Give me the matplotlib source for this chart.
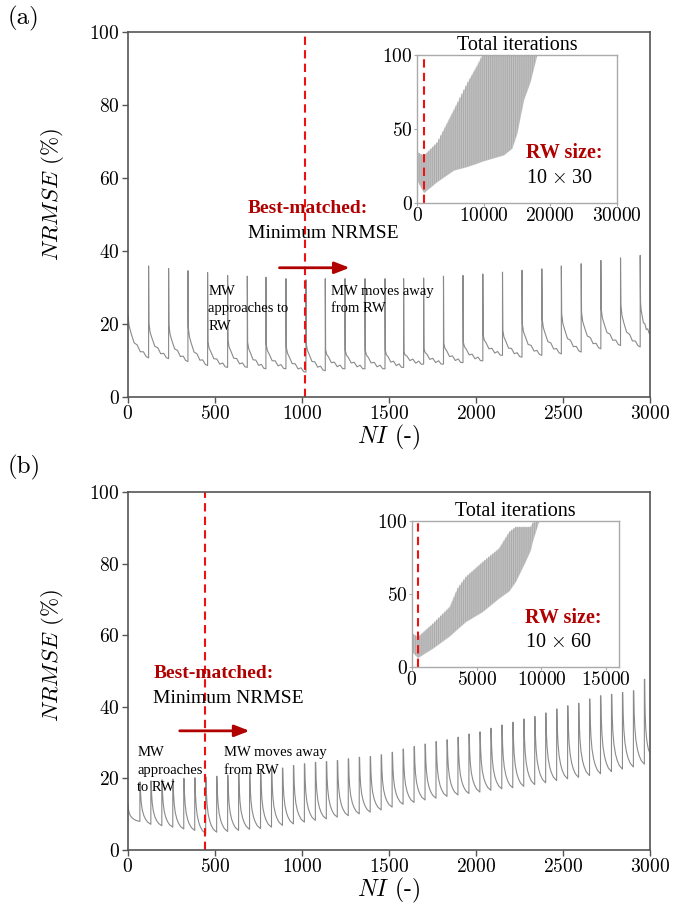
import matplotlib
matplotlib.use('Agg')
import matplotlib.pyplot as plt

plt.rcParams['mathtext.fontset'] = 'cm'
plt.rcParams['font.family'] = 'Liberation Serif'
plt.rcParams['axes.formatter.use_mathtext'] = True
plt.rcParams['hatch.linewidth'] = 0.6

# ---- panel (a): RW size 10 x 30 ----
a_start = 22.3
a_end = 17.2
a_spike_x = [119, 234, 345, 458, 573, 686, 793, 908, 1023, 1134, 1247, 1362, 1477,
             1584, 1699, 1813, 1925, 2039, 2152, 2264, 2378, 2490, 2604, 2717, 2830, 2943]
a_peak = [35.8, 35.1, 34.5, 34.0, 33.2, 33.0, 32.7, 32.3, 32.0, 32.3, 32.3, 32.3, 32.3,
          32.3, 32.5, 33.0, 33.2, 33.6, 34.1, 34.6, 35.0, 35.8, 36.4, 37.3, 38.0, 38.7]
a_restart = [20.0, 19.5, 19.0, 15.0, 15.4, 14.9, 14.2, 13.6, 14.5, 12.8, 12.6, 12.6, 12.6,
             12.2, 13.1, 14.5, 14.9, 16.8, 18.1, 19.9, 21.3, 22.7, 23.1, 24.1, 25.0, 25.9]
a_trough = [10.6, 10.4, 9.6, 8.5, 8.0, 8.0, 7.6, 7.6, 6.7, 7.1, 7.6, 7.6, 7.6,
            8.0, 8.9, 8.9, 9.3, 9.8, 11.3, 10.8, 11.3, 11.7, 12.2, 13.1, 14.0, 13.6]
a_best = 1017

# decay profile inside one cycle (fraction of cycle, fraction of drop)
a_shape_t = [0, 0.06, 0.15, 0.3, 0.45, 0.6, 0.75, 0.88, 1.0]
a_shape_f = [1, 0.75, 0.55, 0.38, 0.26, 0.17, 0.1, 0.05, 0]
a_ripple = [0, 0, 0.4, -0.3, 0.5, -0.3, 0.5, -0.2, 0]

# inset (a): envelope of all 30000 iterations
ia_x = [0, 1000, 3000, 5500, 7500, 9000, 9750, 10500, 13000, 14250, 15000, 16000, 17000, 18000]
ia_hi = [34.5, 32, 41, 63, 81, 93, 100, 100, 100, 100, 100, 100, 100, 100]
ia_lo = [15.3, 6.8, 14.2, 22, 24.4, 26.7, 28, 29, 32.3, 36.8, 47, 69.5, 82, 100]
ia_best = 1000

# ---- panel (b): RW size 10 x 60 ----
b_start = 13.0
b_end = 27.0
b_spike_x = [69, 132, 195, 258, 321, 384, 447, 510, 573, 636, 699, 762, 825, 888, 951, 1014,
             1077, 1140, 1203, 1266, 1329, 1392, 1455, 1518, 1581, 1644, 1707, 1770, 1833,
             1896, 1959, 2022, 2085, 2148, 2211, 2274, 2337, 2400, 2463, 2526, 2589, 2652,
             2715, 2778, 2841, 2904, 2967]
b_peak = [19.0, 19.3, 19.6, 19.8, 20.0, 20.2, 20.4, 20.6, 20.9, 21.3, 21.7, 22.2, 22.6, 22.9,
          23.6, 24.1, 24.5, 24.7, 25.0, 25.5, 25.9, 26.1, 26.6, 27.3, 28.2, 28.9, 29.6, 30.3,
          30.8, 31.5, 32.4, 33.0, 34.0, 34.9, 35.7, 36.6, 37.3, 38.3, 39.4, 40.3, 41.0, 42.2,
          43.1, 43.5, 44.0, 44.5, 47.7]
b_trough = [8.0, 7.2, 6.8, 6.4, 5.9, 5.5, 4.6, 5.0, 5.2, 5.5, 5.8, 6.0, 6.4, 6.9, 7.3, 7.8,
            8.3, 8.7, 9.2, 9.6, 10.1, 10.6, 11.2, 12.0, 12.8, 13.3, 14.0, 14.5, 15.0, 15.4,
            15.8, 16.2, 16.7, 17.1, 17.4, 17.8, 18.3, 18.8, 19.4, 19.9, 20.3, 20.8, 21.3,
            21.9, 22.6, 23.2, 24.0]
b_best = 442

b_shape_t = [0, 0.04, 0.1, 0.2, 0.35, 0.5, 0.7, 1.0]
b_shape_f = [1, 0.7, 0.5, 0.33, 0.2, 0.12, 0.05, 0]
b_ripple = [0, 0, 0, 0, 0, 0, 0, 0]

ib_x = [0, 450, 1600, 2900, 3500, 4150, 5450, 6700, 7500, 8000, 8750, 9150, 9300, 9800]
ib_hi = [23, 20.6, 29.7, 41.2, 53.8, 61.8, 72.1, 81.2, 92.7, 96.1, 96.1, 96.1, 99, 100]
ib_lo = [10.3, 6.2, 12.6, 21, 25.8, 30.9, 37.8, 46.9, 52, 58.4, 72.1, 80, 85.8, 100]
ib_best = 450

DARKRED = '#b10000'
CM = 'cmr10'


def sawtooth(start, spikes, peaks, restarts, troughs, end_x, end_val, st, sf, rip):
    xs, ys = [], []
    x0, v0 = 0, start
    for sx, pk, rs, tr in zip(spikes, peaks, restarts, troughs):
        for t, f, r in zip(st, sf, rip):
            xs.append(x0 + t * (sx - x0))
            ys.append(tr + (v0 - tr) * f + r)
        xs.append(sx)
        ys.append(pk)
        x0, v0 = sx + 2, rs
    for t, f, r in zip(st, sf, rip):
        xs.append(x0 + t * (end_x - x0))
        ys.append(end_val + (v0 - end_val) * f + r)
    return xs, ys


def main_axes(ax, xs, ys, best):
    ax.plot(xs, ys, color='#8a8a8a', lw=0.8)
    ax.axvline(best, color='#ee1111', lw=1.5, ls=(0, (4, 2.5)))
    ax.set_xlim(0, 3000)
    ax.set_ylim(0, 100)
    ax.set_xticks([0, 500, 1000, 1500, 2000, 2500, 3000])
    ax.set_yticks([0, 20, 40, 60, 80, 100])
    for s in ax.spines.values():
        s.set_color('#555555')
        s.set_linewidth(1.2)
    ax.tick_params(direction='out', length=4, width=1, color='#555555',
                   labelsize=14, labelfontfamily=CM, pad=2)
    ax.set_ylabel(r'$\mathit{NRMSE}$ (%)', fontsize=16.5, family=CM)
    ax.set_xlabel(r'$\mathit{NI}$ (-)', fontsize=17, family=CM, labelpad=0)


def inset(rect, xs, lo, hi, best, xlim, xticks, size_txt):
    ins = fig.add_axes(rect)
    ins.fill_between(xs, lo, hi, color='#c2c2c2', lw=0)
    ins.fill_between(xs, lo, hi, facecolor='none', edgecolor='#a8a8a8', hatch='||||||||', lw=0)
    ins.axvline(best, color='#ee1111', lw=1.5, ls=(0, (4, 2.5)))
    ins.set_xlim(*xlim)
    ins.set_ylim(0, 100)
    ins.set_xticks(xticks)
    ins.set_yticks([0, 50, 100])
    for s in ins.spines.values():
        s.set_color('#aaaaaa')
        s.set_linewidth(1)
    ins.tick_params(length=2, width=0.8, color='#aaaaaa', labelsize=14,
                    labelfontfamily=CM, pad=1)
    ins.set_title('Total iterations', fontsize=14.5, pad=3)
    ins.text(0.545, 0.335, 'RW size:', transform=ins.transAxes, fontsize=14.5,
             fontweight='bold', color=DARKRED, va='center')
    ins.text(0.545, 0.165, size_txt, transform=ins.transAxes, fontsize=14.5, va='center')
    return ins


fig = plt.figure(figsize=(6.73, 9.18), dpi=100)

ax_a = fig.add_axes([0.190, 0.568, 0.776, 0.3975])
xa, ya = sawtooth(a_start, a_spike_x, a_peak, a_restart, a_trough, 3000, a_end,
                  a_shape_t, a_shape_f, a_ripple)
main_axes(ax_a, xa, ya, a_best)
ax_a.yaxis.set_label_coords(-0.118, 0.555)
ax_a.text(690, 51.5, 'Best-matched:', fontsize=14, fontweight='bold', color=DARKRED, va='center')
ax_a.text(690, 44.8, 'Minimum NRMSE', fontsize=14, va='center')
ax_a.annotate('', xy=(1290, 35.3), xytext=(855, 35.3),
              arrowprops=dict(arrowstyle='-|>,head_length=0.9,head_width=0.35',
                              color=DARKRED, lw=2))
ax_a.text(462, 30.6, 'MW\napproaches to\nRW', fontsize=10.5, va='top', linespacing=1.45)
ax_a.text(1165, 30.6, 'MW moves away\nfrom RW', fontsize=10.5, va='top', linespacing=1.45)
inset([0.6196, 0.7792, 0.297, 0.161], ia_x, ia_lo, ia_hi, ia_best, (0, 30000),
      [0, 10000, 20000, 30000], r'10 $\times$ 30')

ax_b = fig.add_axes([0.190, 0.074, 0.776, 0.390])
xb, yb = sawtooth(b_start, b_spike_x, b_peak, b_peak, b_trough, 3000, b_end,
                  b_shape_t, b_shape_f, b_ripple)
main_axes(ax_b, xb, yb, b_best)
ax_b.yaxis.set_label_coords(-0.118, 0.545)
ax_b.text(146, 49.3, 'Best-matched:', fontsize=14, fontweight='bold', color=DARKRED, va='center')
ax_b.text(146, 42.4, 'Minimum NRMSE', fontsize=14, va='center')
ax_b.annotate('', xy=(715, 33.3), xytext=(282, 33.3),
              arrowprops=dict(arrowstyle='-|>,head_length=0.9,head_width=0.35',
                              color=DARKRED, lw=2))
ax_b.text(55, 29.0, 'MW\napproaches\nto RW', fontsize=10.5, va='top', linespacing=1.45)
ax_b.text(555, 29.0, 'MW moves away\nfrom RW', fontsize=10.5, va='top', linespacing=1.45)
inset([0.612, 0.2738, 0.308, 0.1587], ib_x, ib_lo, ib_hi, ib_best, (0, 16000),
      [0, 5000, 10000, 15000], r'10 $\times$ 60')

fig.text(0.012, 0.994, '(a)', fontsize=18, family=CM, va='top')
fig.text(0.012, 0.505, '(b)', fontsize=18, family=CM, va='top')

fig.savefig('out.png', dpi=100)
